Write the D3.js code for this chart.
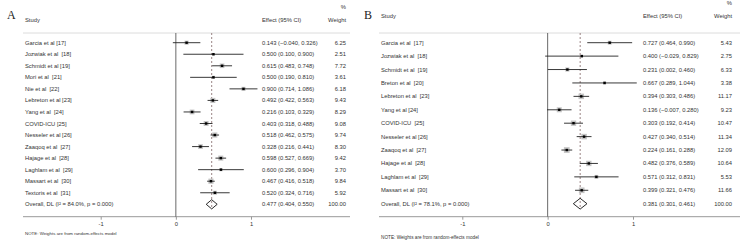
<!DOCTYPE html>
<html><head><meta charset="utf-8">
<script src="https://cdn.jsdelivr.net/npm/d3@7"></script>
<style>
html,body{margin:0;padding:0;background:#fff;}
svg{display:block;font-family:"Liberation Sans",Arial,sans-serif;}
</style></head>
<body><svg id="c" width="750" height="242"></svg>
<script>
// ---- Panel A data ----
const studiesA = ["Garcia et al [17]","Jozwiak et al  [18]","Schmidt et al [19]","Mori et al  [21]","Nie et al  [22]","Lebreton et al [23]","Yang et al  [24]","COVID-ICU [25]","Nesseler et al [26]","Zaaqoq et al  [27]","Hajage et al  [28]","Laghlam et al  [29]","Massart et al  [30]","Textoris et al  [31]"];
const effectA = [0.143,0.500,0.615,0.500,0.900,0.492,0.216,0.403,0.518,0.328,0.598,0.600,0.467,0.520];
const lowerA  = [-0.040,0.100,0.483,0.190,0.714,0.422,0.103,0.318,0.462,0.216,0.527,0.296,0.416,0.324];
const upperA  = [0.326,0.900,0.748,0.810,1.086,0.563,0.329,0.488,0.575,0.441,0.669,0.904,0.518,0.716];
const weightA = [6.25,2.51,7.72,3.61,6.18,9.43,8.29,9.08,9.74,8.30,9.42,3.70,9.84,5.92];
const overallA = {label:"Overall, DL (I\u00B2 = 84.0%, p = 0.000)", effect:0.477, lower:0.404, upper:0.550, weight:100.00};

// ---- Panel B data ----
const studiesB = ["Garcia et al  [17]","Jozwiak et al  [18]","Schmidt et al  [19]","Breton et al  [20]","Lebreton et al  [23]","Yang et al [24]","COVID-ICU  [25]","Nesseler et al [26]","Zaaqoq et al  [27]","Hajage et al  [28]","Laghlam et al  [29]","Massart et al  [30]"];
const effectB = [0.727,0.400,0.231,0.667,0.394,0.136,0.303,0.427,0.224,0.482,0.571,0.399];
const lowerB  = [0.464,-0.029,0.002,0.289,0.303,-0.007,0.192,0.340,0.161,0.376,0.312,0.321];
const upperB  = [0.990,0.829,0.460,1.044,0.486,0.280,0.414,0.514,0.288,0.589,0.831,0.476];
const weightB = [5.43,2.75,6.33,3.38,11.17,9.23,10.47,11.34,12.09,10.64,5.53,11.66];
const overallB = {label:"Overall, DL (I\u00B2 = 78.1%, p = 0.000)", effect:0.381, lower:0.301, upper:0.461, weight:100.00};

const ticks = [-1,0,1];
const tickLabels = ["-1","0","1"];
const note = "NOTE: Weights are from random-effects model";

const svg = d3.select("#c");
const fmt = d3.format(".3f");
const fmtW = d3.format(".2f");

function panel(cfg){
  const g = svg.append("g");
  const n = cfg.studies.length;
  const x = d3.scaleLinear().domain([-1,1]).range(cfg.xr);
  const y = d3.scaleLinear().domain([0,n]).range([cfg.y0,cfg.y1]);
  const step = (cfg.y1-cfg.y0)/n;
  const fs = 5.8;

  // panel letter
  g.append("text").attr("x",cfg.letterX).attr("y",cfg.letterY)
   .attr("font-family","'Liberation Serif','Times New Roman',serif").attr("font-size",12).attr("fill","#222").text(cfg.letter);
  // headers
  g.append("text").attr("x",cfg.left+2).attr("y",cfg.hy).attr("font-size",fs).attr("fill","#333").text("Study");
  g.append("text").attr("x",cfg.effX).attr("y",cfg.hy).attr("font-size",fs).attr("fill","#333").text("Effect (95% CI)");
  g.append("text").attr("x",cfg.wX).attr("y",cfg.hy).attr("font-size",fs).attr("fill","#333").attr("text-anchor","end").text("Weight");
  g.append("text").attr("x",cfg.wX).attr("y",cfg.hy-12.5).attr("font-size",fs).attr("fill","#333").attr("text-anchor","end").text("%");
  // header line
  g.append("line").attr("x1",cfg.left).attr("x2",cfg.right).attr("y1",cfg.top).attr("y2",cfg.top)
   .attr("stroke","#dcdcdc").attr("stroke-width",1);
  // axis line
  g.append("line").attr("x1",cfg.left).attr("x2",cfg.right).attr("y1",cfg.axisY).attr("y2",cfg.axisY)
   .attr("stroke","#999").attr("stroke-width",1);
  // zero line
  g.append("line").attr("x1",x(0)).attr("x2",x(0)).attr("y1",cfg.top).attr("y2",cfg.axisY)
   .attr("stroke","#444").attr("stroke-width",0.8);
  // overall dashed line
  const dh = step*0.4;
  g.append("line").attr("x1",x(cfg.overall.effect)).attr("x2",x(cfg.overall.effect))
   .attr("y1",cfg.top).attr("y2",y(n)+dh)
   .attr("stroke","#806464").attr("stroke-width",0.8).attr("stroke-dasharray","2,2");

  // axis ticks
  const ax = g.append("g").attr("transform",`translate(0,${cfg.axisY})`)
    .call(d3.axisBottom(x).tickValues(ticks).tickFormat((d,i)=>tickLabels[i]).tickSize(3).tickPadding(2));
  ax.select(".domain").remove();
  ax.selectAll("line").attr("stroke","#999");
  ax.selectAll("text").attr("font-size",5.8).attr("fill","#333").attr("font-family","'Liberation Sans',Arial,sans-serif");

  const rows = cfg.studies.map((s,i)=>({s,e:cfg.effect[i],l:cfg.lower[i],u:cfg.upper[i],w:cfg.weight[i],i}));
  // boxes
  g.selectAll(".box").data(rows).enter().append("rect")
   .attr("x",d=>x(d.e)-1.65*Math.sqrt(d.w)/2).attr("y",d=>y(d.i)-1.65*Math.sqrt(d.w)/2)
   .attr("width",d=>1.65*Math.sqrt(d.w)).attr("height",d=>1.65*Math.sqrt(d.w))
   .attr("fill","#c4c4c4");
  // CI lines
  g.selectAll(".ci").data(rows).enter().append("line")
   .attr("x1",d=>x(d.l)).attr("x2",d=>x(d.u)).attr("y1",d=>y(d.i)).attr("y2",d=>y(d.i))
   .attr("stroke","#222").attr("stroke-width",0.9);
  // point
  g.selectAll(".pt").data(rows).enter().append("rect")
   .attr("x",d=>x(d.e)-1.2).attr("y",d=>y(d.i)-1.2).attr("width",2.4).attr("height",2.4).attr("fill","#000");
  // text columns
  g.selectAll(".lab").data(rows).enter().append("text")
   .attr("x",cfg.left+2).attr("y",d=>y(d.i)).attr("dy","0.35em").attr("font-size",fs).attr("fill","#333")
   .attr("xml:space","preserve").style("white-space","pre").text(d=>d.s);
  g.selectAll(".eff").data(rows).enter().append("text")
   .attr("x",cfg.effX).attr("y",d=>y(d.i)).attr("dy","0.35em").attr("font-size",fs).attr("fill","#333")
   .text(d=>`${fmt(d.e)} (${fmt(d.l)}, ${fmt(d.u)})`);
  g.selectAll(".wt").data(rows).enter().append("text")
   .attr("x",cfg.wX).attr("y",d=>y(d.i)).attr("dy","0.35em").attr("font-size",fs).attr("fill","#333")
   .attr("text-anchor","end").text(d=>fmtW(d.w));

  // overall
  const o = cfg.overall, oy = y(n);
  g.append("path").attr("d",`M${x(o.lower)},${oy}L${x(o.effect)},${oy-dh}L${x(o.upper)},${oy}L${x(o.effect)},${oy+dh}Z`)
   .attr("fill","none").attr("stroke","#111").attr("stroke-width",0.9);
  g.append("text").attr("x",cfg.left+2).attr("y",oy).attr("dy","0.35em").attr("font-size",fs).attr("fill","#333").text(o.label);
  g.append("text").attr("x",cfg.effX).attr("y",oy).attr("dy","0.35em").attr("font-size",fs).attr("fill","#333")
   .text(`${fmt(o.effect)} (${fmt(o.lower)}, ${fmt(o.upper)})`);
  g.append("text").attr("x",cfg.wX).attr("y",oy).attr("dy","0.35em").attr("font-size",fs).attr("fill","#333")
   .attr("text-anchor","end").text(fmtW(o.weight));
  // note
  g.append("text").attr("x",cfg.left+2).attr("y",cfg.noteY).attr("font-size",cfg.noteFs).attr("fill","#333").text(note);
}

panel({letter:"A",letterX:7,letterY:19,studies:studiesA,effect:effectA,lower:lowerA,upper:upperA,weight:weightA,overall:overallA,
  xr:[100.7,251],y0:42.7,y1:204.3,left:23,right:350,top:33,axisY:216.7,hy:21.5,effX:262,wX:346,noteY:234.5,noteFs:4.4});
panel({letter:"B",letterX:364,letterY:19,studies:studiesB,effect:effectB,lower:lowerB,upper:upperB,weight:weightB,overall:overallB,
  xr:[462.3,633],y0:42.7,y1:203.7,left:379,right:740,top:33,axisY:216.7,hy:17.5,effX:643,wX:732,noteY:238.5,noteFs:4.7});
</script></body></html>
